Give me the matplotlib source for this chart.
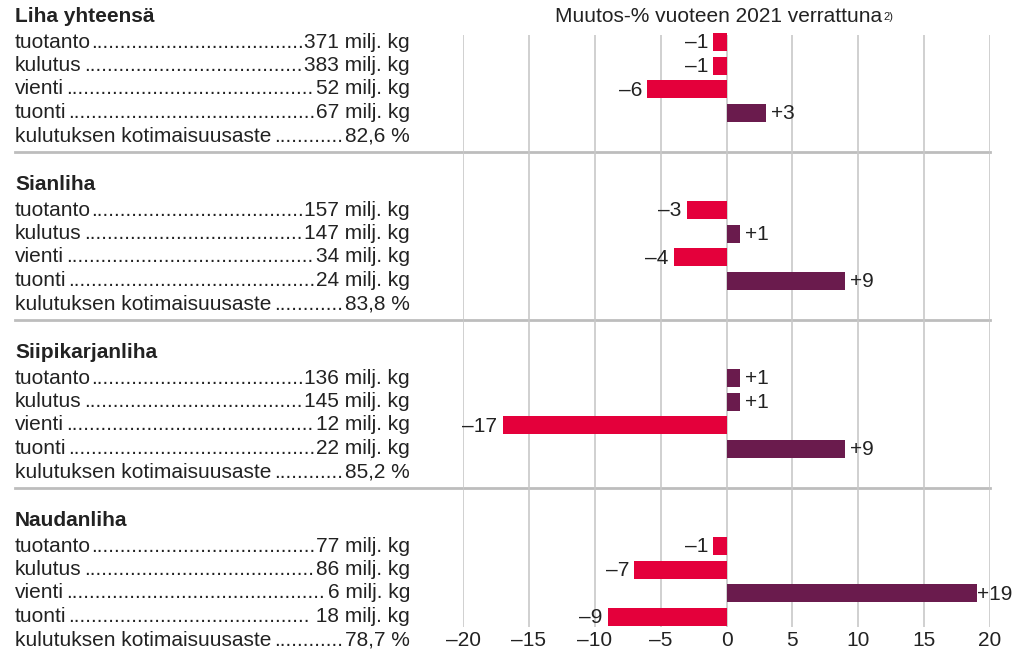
import matplotlib.pyplot as plt

plt.rcParams['font.family'] = ['Liberation Sans', 'DejaVu Sans']

# Data
sections = ["Liha yhteensä", "Sianliha", "Siipikarjanliha", "Naudanliha"]
row_names = ["tuotanto", "kulutus ", "vienti ", "tuonti", "kulutuksen kotimaisuusaste"]
amounts = [
    ["371 milj. kg", "383 milj. kg", "52 milj. kg", "67 milj. kg", "82,6 %"],
    ["157 milj. kg", "147 milj. kg", "34 milj. kg", "24 milj. kg", "83,8 %"],
    ["136 milj. kg", "145 milj. kg", "12 milj. kg", "22 milj. kg", "85,2 %"],
    ["77 milj. kg", "86 milj. kg", "6 milj. kg", " 18 milj. kg", "78,7 %"],
]
# change-% vs 2021 for tuotanto, kulutus, vienti, tuonti
changes = [
    [-1, -1, -6, 3],
    [-3, 1, -4, 9],
    [1, 1, -17, 9],
    [-1, -7, 19, -9],
]
xticks = [-20, -15, -10, -5, 0, 5, 10, 15, 20]
title = "Muutos-% vuoteen 2021 verrattuna"

RED = "#e4003b"
PURPLE = "#6a1b4d"
TXT = "#222222"
FS = 15

W, H = 1014, 653
fig = plt.figure(figsize=(W / 100, H / 100), dpi=100)

# background axes in pixel coordinates for text and separators
bg = fig.add_axes([0, 0, 1, 1])
bg.set_xlim(0, W)
bg.set_ylim(H, 0)
bg.axis("off")

# bar axes
x0, x1 = 463, 990
ax = fig.add_axes([x0 / W, 0, (x1 - x0) / W, 1])
ax.set_xlim(-20, 20)
ax.set_ylim(H, 0)
ax.axis("off")
ax.patch.set_alpha(0)

# grid lines
ax.vlines(xticks, 35, 627, color="#c8c8c8", lw=1.2, zorder=0)
for t in xticks:
    lab = str(t).replace("-", "\u2013")
    ax.text(t, 641, lab, ha="center", va="center", fontsize=FS, color=TXT)

# separators
for s in range(1, 4):
    y = 17 + 168 * s - 33
    bg.plot([15, 990], [y, y], color="#bdbdbd", lw=2, zorder=1)

tt = ax.text(-0.6, 17, title, ha="center", va="center", fontsize=FS, color=TXT)

name_texts = []
for s, sec in enumerate(sections):
    ys = 17 + 168 * s
    bg.text(15, ys, sec, ha="left", va="center", fontsize=FS, fontweight="bold", color=TXT)
    for r in range(5):
        y = ys + 25 + 23.5 * r
        nt = bg.text(15, y, row_names[r].rstrip(), ha="left", va="center", fontsize=FS, color=TXT)
        vt = bg.text(410, y, amounts[s][r], ha="right", va="center", fontsize=FS, color=TXT)
        name_texts.append((nt, vt, y))
    ys_bar = [ys + 25 + 23.5 * r for r in range(4)]
    vals = changes[s]
    cols = [PURPLE if v > 0 else RED for v in vals]
    ax.barh(ys_bar, vals, height=18, color=cols, zorder=2)
    for y, v in zip(ys_bar, vals):
        if v > 0:
            pad = 0.4 if v < 15 else 0.05
            ax.text(v + pad, y + 1, "+%d" % v, ha="left", va="center", fontsize=FS, color=TXT)
        else:
            ax.text(v - 0.4, y + 1, "\u2013%d" % abs(v), ha="right", va="center", fontsize=FS, color=TXT)

# dot leaders and superscript
fig.canvas.draw()
rend = fig.canvas.get_renderer()
probe = bg.text(0, 0, "." * 40, fontsize=FS)
dw = probe.get_window_extent(rend).width / 40
probe.remove()
for nt, vt, y in name_texts:
    vx = vt.get_window_extent(rend).x0
    nx = nt.get_window_extent(rend).x1
    n = int((vx - nx) / dw)
    bg.text((vx + nx) / 2, y, "." * max(n, 0), ha="center", va="center", fontsize=FS, color=TXT)

te = tt.get_window_extent(rend)
fig.text((te.x1 + 1) / W, (te.y1 - 4) / H, "2)", ha="left", va="top", fontsize=8, color=TXT)

fig.savefig("out.png", dpi=100)
